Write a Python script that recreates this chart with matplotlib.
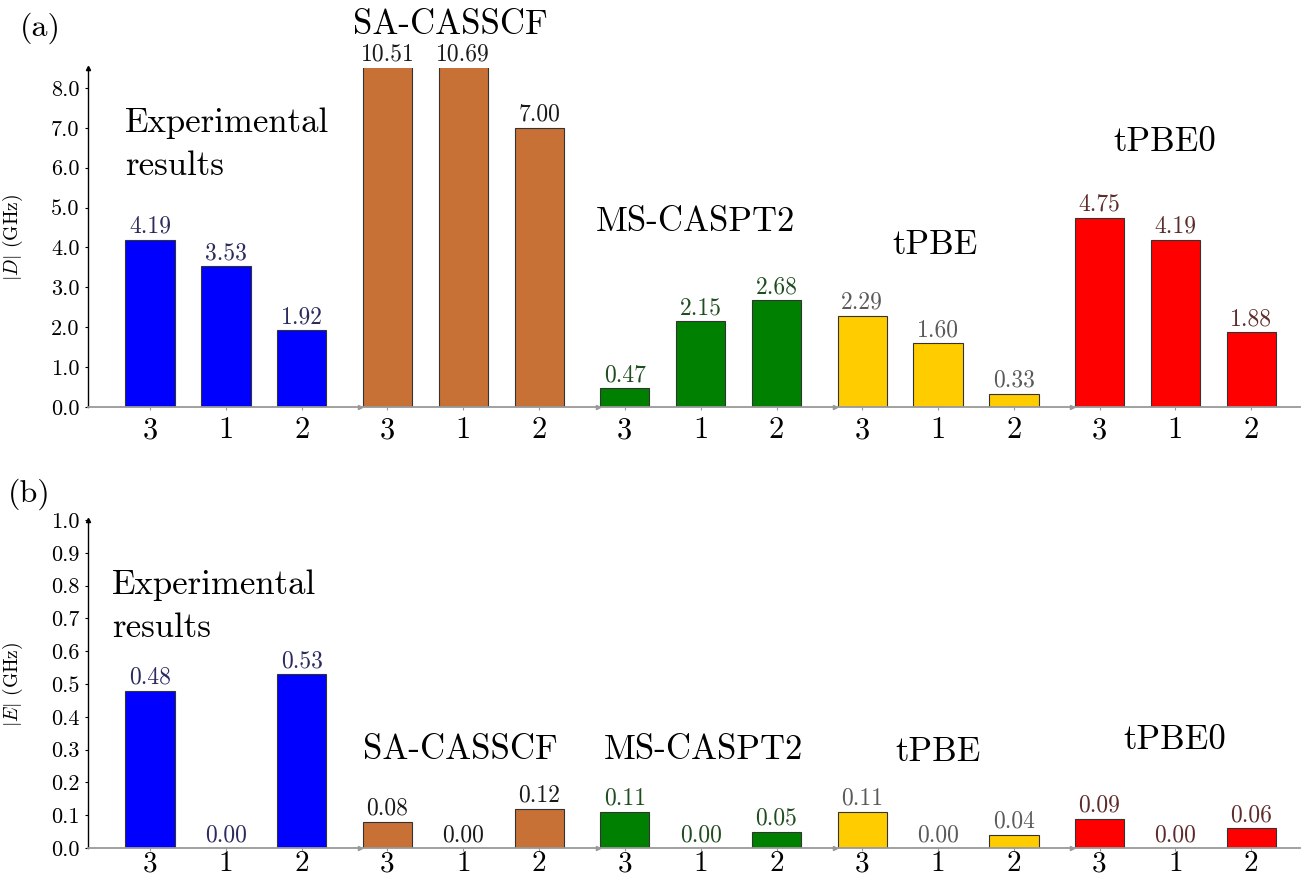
import matplotlib.pyplot as plt
import numpy as np

plt.rcParams['font.family'] = 'cmr10'
plt.rcParams['mathtext.fontset'] = 'cm'
plt.rcParams['axes.formatter.use_mathtext'] = True

# data
methods = ["Experimental\nresults", "SA-CASSCF", "MS-CASPT2", "tPBE", "tPBE0"]
sites = ["3", "1", "2"]
D_vals = [[4.19, 3.53, 1.92],
          [10.51, 10.69, 7.00],
          [0.47, 2.15, 2.68],
          [2.29, 1.60, 0.33],
          [4.75, 4.19, 1.88]]
E_vals = [[0.48, 0.00, 0.53],
          [0.08, 0.00, 0.12],
          [0.11, 0.00, 0.05],
          [0.11, 0.00, 0.04],
          [0.09, 0.00, 0.06]]
bar_colors = ["#0000ff", "#c87137", "#008000", "#ffcc00", "#ff0000"]
text_colors = ["#2b2b5e", "#1a1a1a", "#1f4d1f", "#5a5a5a", "#5e2b2b"]

step = 3.13  # group spacing incl. small gap
width = 0.65

fig = plt.figure(figsize=(13.03, 8.82), dpi=100)
ax1 = fig.add_axes([0.0675, 0.5385, 0.930, 0.3844])
ax2 = fig.add_axes([0.0675, 0.0385, 0.930, 0.3719])


def draw(ax, vals, ymax, yticks, ylabel):
    xs_all = []
    for g, v in enumerate(vals):
        xs = g * step + np.arange(3)
        xs_all.extend(xs)
        ax.bar(xs, v, width, color=bar_colors[g], edgecolor="#333333",
               linewidth=0.8, zorder=2)
        for x, val in zip(xs, v):
            ax.text(x, min(val, ymax) + ymax * 0.006, "%.2f" % val,
                    ha="center", va="bottom", fontsize=17,
                    color=text_colors[g], clip_on=False)
        if g < len(vals) - 1:
            ax.plot((g + 1) * step - 0.36, 0, marker=">", color="#999999",
                    markersize=3, clip_on=False, zorder=3)
    ax.set_xticks(xs_all)
    ax.set_xticklabels(sites * len(vals), fontsize=22)
    ax.set_xlim(-0.82, 14.52 + 0.64)
    ax.set_ylim(0, ymax)
    ax.set_yticks(yticks)
    ax.set_yticklabels(["%.1f" % t for t in yticks], fontsize=16)
    ax.set_ylabel(ylabel, fontsize=14)
    for s in ["top", "right"]:
        ax.spines[s].set_visible(False)
    ax.spines["bottom"].set_color("#999999")
    ax.spines["bottom"].set_linewidth(1.3)
    ax.spines["left"].set_linewidth(1.0)
    ax.tick_params(axis="x", length=2, color="#999999", pad=0)
    ax.tick_params(axis="y", length=2, pad=4)
    ax.plot(0, 1, marker="^", color="k", markersize=3,
            transform=ax.transAxes, clip_on=False)


draw(ax1, D_vals, 8.5, np.arange(0, 8.01, 1.0), r"$|D|$ (GHz)")
draw(ax2, E_vals, 1.0, np.arange(0, 1.001, 0.1), r"$|E|$ (GHz)")

ax1.tick_params(axis="x", pad=5)
ax2.set_xticklabels(sites * len(E_vals), fontsize=21)
ax1.yaxis.set_label_coords(-0.052, 0.5)
ax2.yaxis.set_label_coords(-0.052, 0.5)

# panel letters and method labels (pixel positions / figure size)
W, H = 1303.0, 882.0
fig.text(20 / W, 1 - 28 / H, "(a)", fontsize=23, va="center")
fig.text(8 / W, 1 - 494 / H, "(b)", fontsize=23, va="center")

top_lbl = [(125, 145, "left"), (450, 25, "center"), (695, 222, "center"),
           (935, 245, "center"), (1165, 142, "center")]
bot_lbl = [(112, 607, "left"), (460, 750, "center"), (703, 750, "center"),
           (938, 752, "center"), (1175, 740, "center")]
for (x, y, ha), m in zip(top_lbl, methods):
    fig.text(x / W, 1 - y / H, m, fontsize=25, ha=ha, va="center",
             linespacing=1.45)
for (x, y, ha), m in zip(bot_lbl, methods):
    fig.text(x / W, 1 - y / H, m, fontsize=25, ha=ha, va="center",
             linespacing=1.45)

fig.savefig("out.png", dpi=100)
